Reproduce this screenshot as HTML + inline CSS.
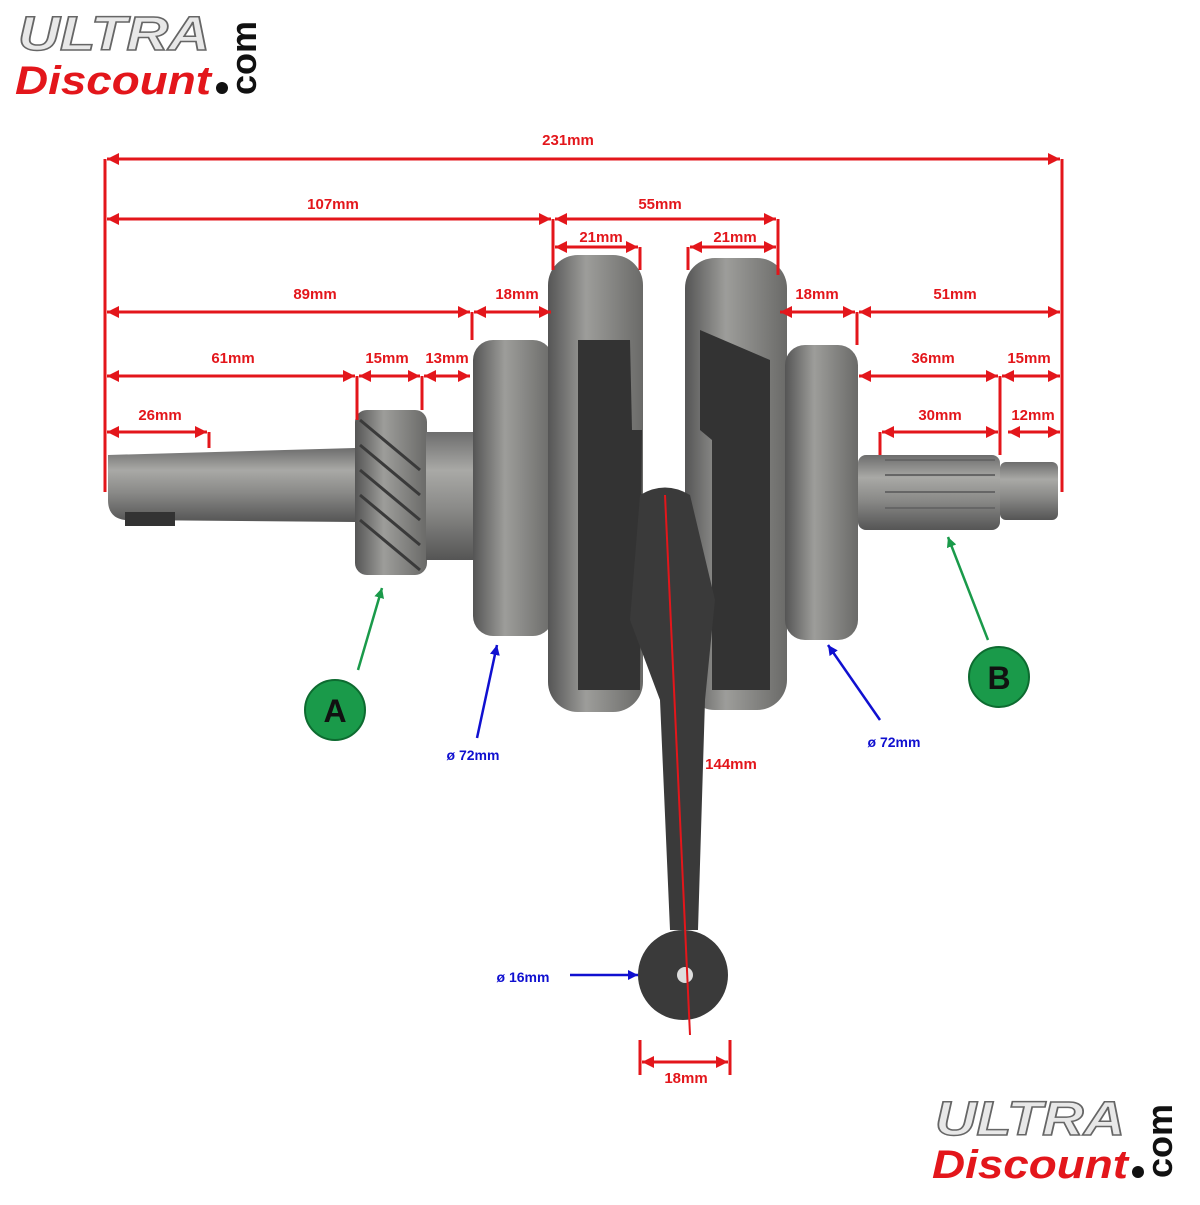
<!DOCTYPE html>
<html><head><meta charset="utf-8"><style>
body{margin:0;background:#fff}
svg text{font-family:"Liberation Sans",sans-serif;font-weight:bold}
</style></head><body>
<svg width="1200" height="1200" viewBox="0 0 1200 1200" xmlns="http://www.w3.org/2000/svg">
<defs>
<marker id="ar" viewBox="0 0 10 10" refX="10" refY="5" markerWidth="4" markerHeight="4" orient="auto-start-reverse"><path d="M0,0L10,5L0,10z" fill="#e3161b"/></marker>
<marker id="ab" viewBox="0 0 10 10" refX="10" refY="5" markerWidth="4" markerHeight="4" orient="auto"><path d="M0,0L10,5L0,10z" fill="#1010d0"/></marker>
<marker id="ag" viewBox="0 0 10 10" refX="10" refY="5" markerWidth="4" markerHeight="4" orient="auto"><path d="M0,0L10,5L0,10z" fill="#1a9a4a"/></marker>
<linearGradient id="met" x1="0" y1="0" x2="0" y2="1"><stop offset="0" stop-color="#6d6d6d"/><stop offset=".3" stop-color="#a9a9a6"/><stop offset=".6" stop-color="#8a8a88"/><stop offset="1" stop-color="#555"/></linearGradient>
<linearGradient id="metx" x1="0" y1="0" x2="1" y2="0"><stop offset="0" stop-color="#555"/><stop offset=".4" stop-color="#9d9d9a"/><stop offset="1" stop-color="#6a6a68"/></linearGradient>
</defs>
<!-- logo top -->
<text x="18" y="50" font-size="48" font-style="italic" fill="#e8e8e8" stroke="#666" stroke-width="1.5" textLength="192" lengthAdjust="spacingAndGlyphs">ULTRA</text>
<text x="15" y="94" font-size="40" font-style="italic" fill="#e3161b" textLength="196" lengthAdjust="spacingAndGlyphs">Discount</text>
<circle cx="222" cy="88" r="6" fill="#111"/>
<text transform="translate(256,95) rotate(-90)" font-size="36" fill="#111">com</text>
<!-- logo bottom -->
<text x="935" y="1135" font-size="48" font-style="italic" fill="#e8e8e8" stroke="#666" stroke-width="1.5" textLength="190" lengthAdjust="spacingAndGlyphs">ULTRA</text>
<text x="932" y="1178" font-size="40" font-style="italic" fill="#e3161b" textLength="196" lengthAdjust="spacingAndGlyphs">Discount</text>
<circle cx="1138" cy="1172" r="6" fill="#111"/>
<text transform="translate(1172,1178) rotate(-90)" font-size="36" fill="#111">com</text>

<!-- crankshaft -->
<path d="M108,455 L355,448 L355,522 L125,520 Q108,518 108,500Z" fill="url(#met)"/>
<rect x="125" y="512" width="50" height="14" fill="#333"/>
<rect x="355" y="410" width="72" height="165" rx="12" fill="url(#metx)"/>
<g stroke="#3a3a3a" stroke-width="3">
<line x1="360" y1="420" x2="420" y2="470"/><line x1="360" y1="445" x2="420" y2="495"/><line x1="360" y1="470" x2="420" y2="520"/><line x1="360" y1="495" x2="420" y2="545"/><line x1="360" y1="520" x2="420" y2="570"/></g>
<rect x="426" y="432" width="50" height="128" fill="url(#met)"/>
<rect x="473" y="340" width="80" height="296" rx="20" fill="url(#metx)"/>
<rect x="548" y="255" width="95" height="457" rx="30" fill="url(#metx)"/>
<rect x="685" y="258" width="102" height="452" rx="30" fill="url(#metx)"/>
<path d="M578,340 L630,340 L632,430 L642,430 L640,690 L578,690Z" fill="#333"/>
<path d="M700,330 L770,360 L770,690 L712,690 L712,440 L700,430Z" fill="#333"/>
<rect x="785" y="345" width="73" height="295" rx="20" fill="url(#metx)"/>
<rect x="858" y="455" width="142" height="75" rx="8" fill="url(#met)"/>
<g stroke="#666" stroke-width="2"><line x1="885" y1="460" x2="995" y2="460"/><line x1="885" y1="475" x2="995" y2="475"/><line x1="885" y1="492" x2="995" y2="492"/><line x1="885" y1="508" x2="995" y2="508"/></g>
<rect x="1000" y="462" width="58" height="58" rx="6" fill="url(#met)"/>
<!-- con rod -->
<path d="M640,495 Q665,480 690,495 L715,600 L705,700 L698,930 L670,930 L660,700 L630,620Z" fill="#3a3a3a"/>
<circle cx="683" cy="975" r="45" fill="#3a3a3a"/>
<circle cx="685" cy="975" r="8" fill="#ddd"/>

<!-- dimensions -->
<g stroke="#e3161b" stroke-width="3" fill="none">
<line x1="105" y1="159" x2="105" y2="492"/><line x1="1062" y1="159" x2="1062" y2="492"/>
<line x1="553" y1="219" x2="553" y2="270"/><line x1="778" y1="219" x2="778" y2="275"/>
<line x1="640" y1="247" x2="640" y2="270"/><line x1="688" y1="247" x2="688" y2="270"/>
<line x1="472" y1="312" x2="472" y2="340"/><line x1="857" y1="312" x2="857" y2="345"/>
<line x1="357" y1="376" x2="357" y2="420"/><line x1="422" y1="376" x2="422" y2="410"/>
<line x1="1000" y1="376" x2="1000" y2="455"/><line x1="209" y1="432" x2="209" y2="448"/>
<line x1="880" y1="432" x2="880" y2="455"/>
<g marker-start="url(#ar)" marker-end="url(#ar)">
<line x1="107" y1="159" x2="1060" y2="159"/>
<line x1="107" y1="219" x2="551" y2="219"/><line x1="555" y1="219" x2="776" y2="219"/>
<line x1="555" y1="247" x2="638" y2="247"/><line x1="690" y1="247" x2="776" y2="247"/>
<line x1="107" y1="312" x2="470" y2="312"/><line x1="474" y1="312" x2="551" y2="312"/>
<line x1="780" y1="312" x2="855" y2="312"/><line x1="859" y1="312" x2="1060" y2="312"/>
<line x1="107" y1="376" x2="355" y2="376"/><line x1="359" y1="376" x2="420" y2="376"/><line x1="424" y1="376" x2="470" y2="376"/>
<line x1="859" y1="376" x2="998" y2="376"/><line x1="1002" y1="376" x2="1060" y2="376"/>
<line x1="107" y1="432" x2="207" y2="432"/><line x1="882" y1="432" x2="998" y2="432"/><line x1="1008" y1="432" x2="1060" y2="432"/>
<line x1="642" y1="1062" x2="728" y2="1062"/>
</g>
<line x1="640" y1="1040" x2="640" y2="1075"/><line x1="730" y1="1040" x2="730" y2="1075"/>
<line x1="665" y1="495" x2="690" y2="1035" stroke-width="2"/>
</g>
<g fill="#e3161b" font-size="15" text-anchor="middle">
<text x="568" y="145">231mm</text><text x="333" y="209">107mm</text><text x="660" y="209">55mm</text>
<text x="601" y="242">21mm</text><text x="735" y="242">21mm</text>
<text x="315" y="299">89mm</text><text x="517" y="299">18mm</text><text x="817" y="299">18mm</text><text x="955" y="299">51mm</text>
<text x="233" y="363">61mm</text><text x="387" y="363">15mm</text><text x="447" y="363">13mm</text>
<text x="933" y="363">36mm</text><text x="1029" y="363">15mm</text>
<text x="160" y="420">26mm</text><text x="940" y="420">30mm</text><text x="1033" y="420">12mm</text>
<text x="731" y="769">144mm</text><text x="686" y="1083">18mm</text>
</g>
<!-- blue -->
<g stroke="#1010d0" stroke-width="2.5">
<line x1="477" y1="738" x2="497" y2="645" marker-end="url(#ab)"/>
<line x1="880" y1="720" x2="828" y2="645" marker-end="url(#ab)"/>
<line x1="570" y1="975" x2="638" y2="975" marker-end="url(#ab)"/>
</g>
<g fill="#1010d0" font-size="14" text-anchor="middle">
<text x="473" y="760">ø 72mm</text><text x="894" y="747">ø 72mm</text><text x="523" y="982">ø 16mm</text>
</g>
<!-- green -->
<g stroke="#1a9a4a" stroke-width="2.5">
<line x1="358" y1="670" x2="382" y2="588" marker-end="url(#ag)"/>
<line x1="988" y1="640" x2="948" y2="537" marker-end="url(#ag)"/>
</g>
<circle cx="335" cy="710" r="30" fill="#1a9a4a" stroke="#0d6b30" stroke-width="2"/>
<circle cx="999" cy="677" r="30" fill="#1a9a4a" stroke="#0d6b30" stroke-width="2"/>
<text x="335" y="722" font-size="32" text-anchor="middle" fill="#111">A</text>
<text x="999" y="689" font-size="32" text-anchor="middle" fill="#111">B</text>
</svg>
</body></html>
